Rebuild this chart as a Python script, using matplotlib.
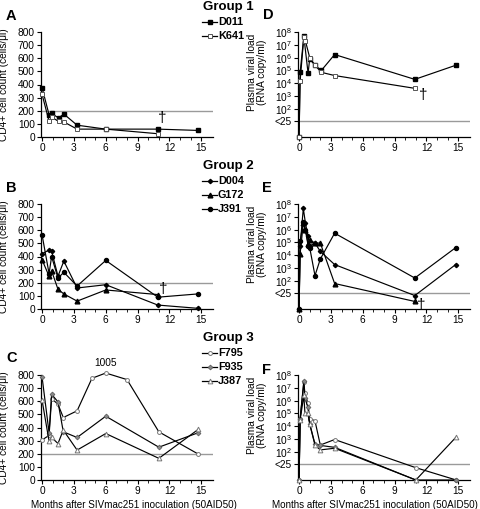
import numpy as np
import matplotlib.pyplot as plt
from matplotlib.lines import Line2D

plt.rcParams['font.family'] = ['Liberation Sans', 'DejaVu Sans']
plt.rcParams['mathtext.fontset'] = 'custom'
plt.rcParams['mathtext.rm'] = 'Liberation Sans'
plt.rcParams['font.size'] = 7

# ---- data (months after inoculation) ----
# group 1, CD4+ counts (cells/ul)
d011_cd4_t = [0, 0.66, 0.9, 1.55, 2.05, 3.3, 6.0, 10.9, 14.7]
d011_cd4 = [375, 170, 180, 145, 175, 90, 60, 60, 50]
k641_cd4_t = [0, 0.66, 0.9, 1.55, 2.05, 3.3, 6.0, 10.9]
k641_cd4 = [325, 120, 150, 120, 115, 60, 60, 25]
# group 1, viral load (log10 RNA copy/ml, -0.2 = undetectable baseline)
d011_vl_t = [0, 0.1, 0.45, 0.85, 1.0, 1.5, 2.1, 3.35, 10.9, 14.75]
d011_vl = [-0.2, 4.85, 7.66, 4.77, 5.9, 5.4, 5.0, 6.24, 4.3, 5.4]
k641_vl_t = [0, 0.1, 0.45, 0.6, 1.0, 1.5, 2.1, 3.35, 10.9]
k641_vl = [-0.2, 4.2, 7.6, 7.3, 6.0, 5.4, 4.85, 4.6, 3.6]

# group 2
g2_cd4_t = [0, 0.66, 0.9, 1.5, 2.05, 3.3, 6.0, 10.9, 14.7]
d004_cd4 = [420, 450, 440, 250, 365, 160, 185, 30, 5]
g172_cd4 = [375, 250, 290, 150, 115, 60, 145, 110]
j391_cd4 = [565, 270, 400, 235, 280, 175, 370, 90, 115]
g2_vl_t = [0, 0.1, 0.4, 0.6, 0.85, 1.0, 1.5, 2.0, 3.35, 10.9, 14.75]
d004_vl = [-0.2, 4.74, 7.66, 6.5, 5.47, 4.69, 4.95, 4.3, 3.27, 0.85, 3.27]
g172_vl = [-0.2, 4.12, 6.5, 5.98, 4.9, 5.2, 4.95, 4.95, 1.79, 0.39]
j391_vl = [-0.2, 5.08, 6.63, 6.0, 4.74, 4.6, 2.41, 3.7, 5.72, 2.22, 4.59]

# group 3
f795_cd4_t = [0, 0.66, 0.9, 1.5, 2.0, 3.3, 4.7, 6.0, 8.0, 11.0, 14.7]
f795_cd4 = [305, 340, 620, 577, 476, 527, 775, 1005, 765, 367, 198]
g3_cd4_t = [0, 0.66, 0.9, 1.5, 2.0, 3.3, 6.0, 11.0, 14.7]
f935_cd4 = [785, 360, 653, 595, 367, 324, 486, 250, 360]
j387_cd4 = [608, 296, 324, 278, 380, 228, 354, 165, 385]
g3_vl_t = [0, 0.1, 0.45, 0.55, 0.83, 1.0, 1.5, 2.0, 3.35, 11.0, 14.8]
f795_vl = [-0.2, 4.6, 7.45, 6.56, 5.8, 4.6, 4.42, 2.53, 2.96, 0.76, -0.2]
f935_vl = [-0.2, 4.55, 7.5, 6.2, 5.5, 4.2, 2.6, 2.5, 2.35, -0.2, -0.2]
j387_vl = [-0.2, 4.5, 6.4, 5.05, 5.0, 4.17, 2.53, 2.15, 2.28, -0.2, 3.16]

cd4_cap = 815  # off-scale values drawn at top edge

sty = {
    'D011': dict(marker='s', mfc='black', mec='black', ms=3.0),
    'K641': dict(marker='s', mfc='white', mec='#555555', ms=3.0, mew=0.7),
    'D004': dict(marker='D', mfc='black', mec='black', ms=2.2),
    'G172': dict(marker='^', mfc='black', mec='black', ms=3.4),
    'J391': dict(marker='o', mfc='black', mec='black', ms=2.9),
    'F795': dict(marker='o', mfc='white', mec='#777777', ms=2.8, mew=0.7),
    'F935': dict(marker='D', mfc='#888888', mec='#555555', ms=2.5, mew=0.5),
    'J387': dict(marker='^', mfc='white', mec='#777777', ms=3.4, mew=0.7),
}

fig = plt.figure(figsize=(4.8, 5.09), dpi=100)
W, H = 480, 509


def add_ax(x0, x1, ytop, ybot):
    return fig.add_axes([x0 / W, 1 - ybot / H, (x1 - x0) / W, (ybot - ytop) / H])


def style_ax(ax):
    for s in ['top', 'right']:
        ax.spines[s].set_visible(False)
    ax.spines['left'].set_linewidth(0.9)
    ax.spines['bottom'].set_linewidth(0.9)
    ax.set_xlim(-0.1, 16.1)
    ax.set_xticks([0, 3, 6, 9, 12, 15])
    ax.set_xticks(np.arange(0, 16), minor=True)
    ax.tick_params(direction='out', length=3, width=0.8, labelsize=7.3, pad=1.5)
    ax.tick_params(which='minor', direction='out', length=2, width=0.6)


def draw(ax, t, v, name, cap=None):
    v = np.array(v, dtype=float)
    if cap is not None:
        v = np.minimum(v, cap)
    ax.plot(t, v, color='black', lw=0.85, clip_on=False, zorder=3, **sty[name])


rows = [(32, 137), (204, 309), (375, 480)]
cd4_axes = [add_ax(41, 213, *r) for r in rows]
vl_axes = [add_ax(298, 470, *r) for r in rows]

for ax in cd4_axes:
    style_ax(ax)
    ax.set_ylim(0, 800)
    ax.set_yticks(range(0, 801, 100))
    ax.axhline(200, color='#9a9a9a', lw=1.0, zorder=1)
    ax.set_ylabel('CD4+ cell count (cells/\u03bcl)', fontsize=7.3)
    ax.yaxis.set_label_coords(-0.185, 0.5)

for ax in vl_axes:
    style_ax(ax)
    ax.set_ylim(-0.2, 8)
    ax.set_yticks([1.07, 2, 3, 4, 5, 6, 7, 8])
    ax.set_yticklabels(['<25'] + [r'$\mathregular{10^{%d}}$' % k for k in range(2, 9)])
    ax.axhline(1.07, color='#9a9a9a', lw=1.0, zorder=1)
    ax.set_ylabel('Plasma viral load\n(RNA copy/ml)', fontsize=7.3, linespacing=1.0)
    ax.yaxis.set_label_coords(-0.18, 0.62)

a, b, c = cd4_axes
d, e, f = vl_axes

draw(a, d011_cd4_t, d011_cd4, 'D011')
draw(a, k641_cd4_t, k641_cd4, 'K641')
draw(d, d011_vl_t, d011_vl, 'D011')
draw(d, k641_vl_t, k641_vl, 'K641')

draw(b, g2_cd4_t, d004_cd4, 'D004')
draw(b, g2_cd4_t[:len(g172_cd4)], g172_cd4, 'G172')
draw(b, g2_cd4_t, j391_cd4, 'J391')
draw(e, g2_vl_t, d004_vl, 'D004')
draw(e, g2_vl_t[:len(g172_vl)], g172_vl, 'G172')
draw(e, g2_vl_t, j391_vl, 'J391')

draw(c, f795_cd4_t, f795_cd4, 'F795', cap=cd4_cap)
draw(c, g3_cd4_t, f935_cd4, 'F935')
draw(c, g3_cd4_t, j387_cd4, 'J387')
draw(f, g3_vl_t, f795_vl, 'F795')
draw(f, g3_vl_t, f935_vl, 'F935')
draw(f, g3_vl_t, j387_vl, 'J387')

c.text(6, 890, str(max(f795_cd4)), ha='center', va='center', fontsize=7.3)

# deaths
a.text(11.3, 145, '\u2020', ha='center', va='center', fontsize=11)
b.text(11.4, 155, '\u2020', ha='center', va='center', fontsize=11)
d.text(11.7, 3.1, '\u2020', ha='center', va='center', fontsize=11)
e.text(11.5, 0.15, '\u2020', ha='center', va='center', fontsize=11, clip_on=False)

xlab = 'Months after SIVmac251 inoculation (50AID50)'
c.set_xlabel(xlab, fontsize=7.1)
c.xaxis.set_label_coords(0.54, -0.19)
f.set_xlabel(xlab, fontsize=7.1)
f.xaxis.set_label_coords(0.45, -0.19)

# panel letters
for lab, x, y in [('A', 6, 16), ('B', 6, 188), ('C', 6, 358),
                  ('D', 263, 15), ('E', 262, 188), ('F', 262, 370)]:
    fig.text(x / W, 1 - y / H, lab, fontsize=10.5, fontweight='bold', va='center')

# legends
groups = [('Group 1', 7, ['D011', 'K641'], [22, 36]),
          ('Group 2', 166, ['D004', 'G172', 'J391'], [181, 195, 209]),
          ('Group 3', 338, ['F795', 'F935', 'J387'], [353, 367, 381])]
for title, ty, names, ys in groups:
    fig.text(203 / W, 1 - ty / H, title, fontsize=9.5, fontweight='bold', va='center')
    for nm, yy in zip(names, ys):
        yf = 1 - yy / H
        fig.add_artist(Line2D([202 / W, 217 / W], [yf, yf], color='black', lw=0.9,
                              transform=fig.transFigure))
        fig.add_artist(Line2D([209.5 / W], [yf], color='black', lw=0,
                              transform=fig.transFigure, **sty[nm]))
        fig.text(218 / W, yf, nm, fontsize=7.8, fontweight='bold', va='center')

fig.savefig('out.png', dpi=100)
